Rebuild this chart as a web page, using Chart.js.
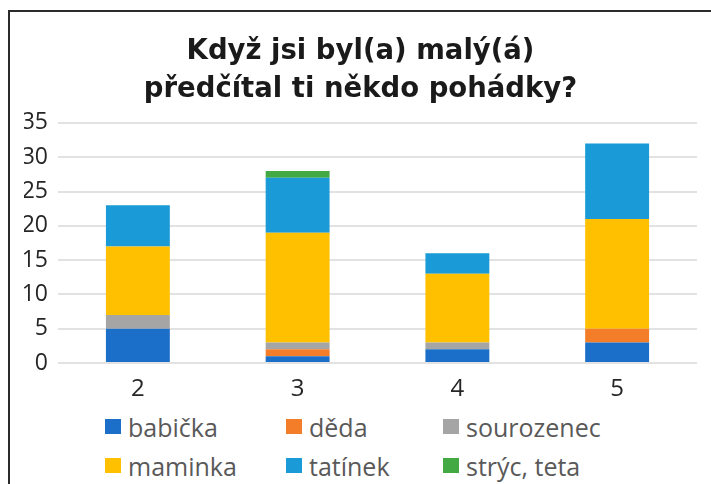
<!DOCTYPE html>
<html>
<head>
<meta charset="utf-8">
<script src="https://cdn.jsdelivr.net/npm/chart.js@4.4.0/dist/chart.umd.min.js"></script>
<style>
  body { margin: 0; background: #fff; font-family: "Open Sans", sans-serif; }
  #wrap { position: relative; width: 711px; height: 484px; overflow: hidden; }
  #frame { position: absolute; left: 8px; top: 10px; right: -10px; bottom: -10px; border-left: 2px solid #2b2b2b; border-top: 2px solid #2b2b2b; }
  #chart { position: absolute; left: 0; top: 0; }
  #legend { position: absolute; left: 105px; top: 407px; display: grid; grid-template-columns: 181px 157px 220px; }
  .item { display: flex; align-items: center; font-size: 25px; color: #595959; height: 39px; white-space: nowrap; }
  .box { width: 16px; height: 15px; margin-right: 7px; flex: none; }
</style>
</head>
<body>
<div id="wrap">
  <div id="frame"></div>
  <canvas id="chart" width="711" height="402"></canvas>
  <div id="legend"></div>
</div>
<script>
const categories = ['2', '3', '4', '5'];
const seriesNames = ['babička', 'děda', 'sourozenec', 'maminka', 'tatínek', 'strýc, teta'];
const babicka = [5, 1, 2, 3];
const deda = [0, 1, 0, 2];
const sourozenec = [2, 1, 1, 0];
const maminka = [10, 16, 10, 16];
const tatinek = [6, 8, 3, 11];
const stryc = [0, 1, 0, 0];
const colors = ['#1b6fc8', '#f47d2a', '#a5a5a5', '#ffc000', '#1a9ad6', '#43a943'];

const values = [babicka, deda, sourozenec, maminka, tatinek, stryc];
const datasets = seriesNames.map((name, i) => ({
  label: name,
  data: values[i],
  backgroundColor: colors[i],
  borderWidth: 0,
  barPercentage: 0.8,
  categoryPercentage: 0.5
}));

const ctx = document.getElementById('chart');
new Chart(ctx, {
  type: 'bar',
  data: { labels: categories, datasets: datasets },
  options: {
    responsive: false,
    animation: false,
    layout: { padding: { left: 24, right: 14, top: 33, bottom: 0 } },
    plugins: {
      legend: { display: false },
      tooltip: { enabled: false },
      title: {
        display: true,
        text: ['Když jsi byl(a) malý(á)', 'předčítal ti někdo pohádky?'],
        color: '#1a1a1a',
        font: { family: 'DejaVu Sans', size: 27.5, weight: 'bold', lineHeight: 1.38 },
        padding: { top: 0, bottom: 14 }
      }
    },
    scales: {
      x: {
        stacked: true,
        grid: { display: false },
        border: { display: false },
        ticks: { color: '#262626', font: { family: 'Open Sans', size: 24 }, padding: 4 },
        afterFit: (scale) => { scale.height = 39; }
      },
      y: {
        stacked: true,
        min: 0,
        max: 35,
        ticks: { stepSize: 5, color: '#262626', font: { family: 'Open Sans', size: 23 }, padding: 10 },
        grid: { color: '#e2e2e2', lineWidth: 2, drawTicks: false },
        border: { display: false },
        afterFit: (scale) => { scale.width = 34; }
      }
    }
  }
});

// legend as html, three columns like the original
const legend = document.getElementById('legend');
seriesNames.forEach((name, i) => {
  const el = document.createElement('div');
  el.className = 'item';
  el.innerHTML = '<span class="box" style="background:' + colors[i] + '"></span>' + name;
  legend.appendChild(el);
});
</script>
</body>
</html>
